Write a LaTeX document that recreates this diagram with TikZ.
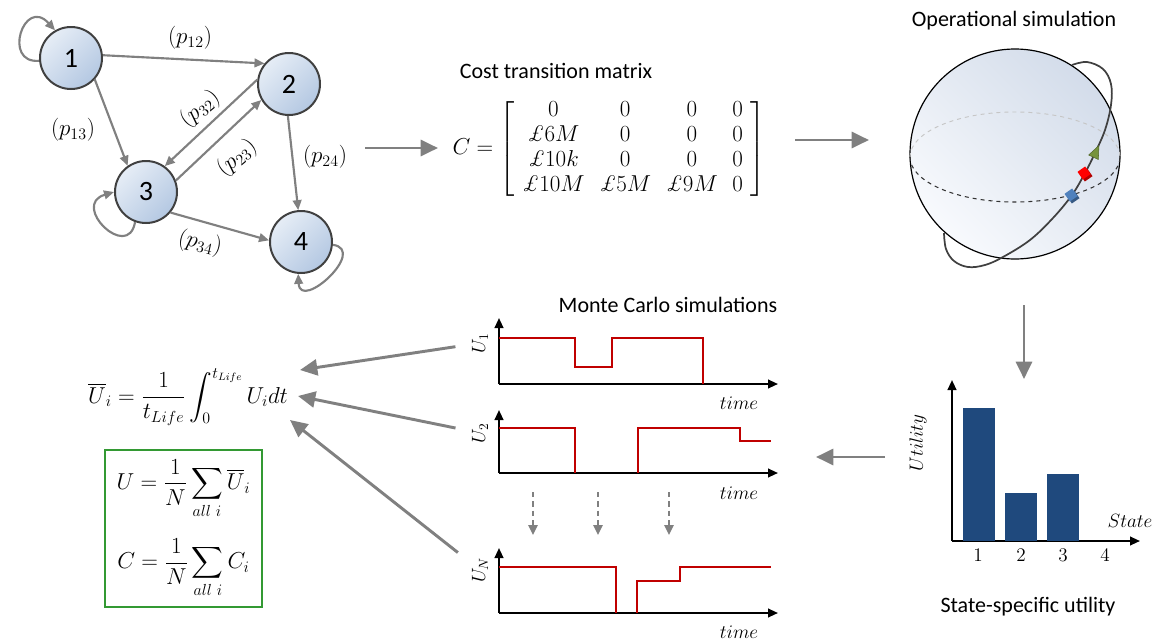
\documentclass[tikz,border=0pt]{standalone}
\usepackage{amsmath}
\usepackage{amssymb}
\usepackage[no-math]{fontspec}
\setmainfont{Carlito}
\newfontfamily\lmrfont{Latin Modern Roman}
\usetikzlibrary{arrows.meta, calc, positioning, shapes.geometric}
\definecolor{stateedge}{HTML}{404040}
\definecolor{statetop}{HTML}{E6EDF6}
\definecolor{statebottom}{HTML}{B4C8E2}
\definecolor{linkgrey}{HTML}{808080}
\definecolor{signalred}{HTML}{C00000}
\definecolor{barblue}{HTML}{1F497D}
\definecolor{boxgreen}{HTML}{339933}
\definecolor{spheretop}{HTML}{D3DCEA}
\definecolor{spherebottom}{HTML}{F8FAFD}
\definecolor{orbitgreen}{HTML}{77933C}
\definecolor{cubeblue}{HTML}{4F81BD}

\newcommand{\gbp}{\text{\lmrfont\itshape\pounds}}

\begin{document}
\begin{tikzpicture}[x=0.75pt, y=-0.75pt,
    state/.style={circle, draw=stateedge, line width=1.5pt, minimum size=46.5pt, inner sep=0pt,
        top color=statetop, bottom color=statebottom, shading angle=45, font=\fontsize{21}{25}\selectfont},
    link/.style={draw=linkgrey, line width=1.6pt, -{Triangle[length=7.5pt, width=6.5pt]}},
    flow/.style={draw=linkgrey, line width=2.2pt, -{Triangle[length=13pt, width=12pt]}},
    hint/.style={draw=linkgrey, line width=1.4pt, dash pattern=on 4pt off 3pt, -{Triangle[length=7.5pt, width=7pt]}},
    axis/.style={black, line width=1.5pt, -{Triangle[length=7.5pt, width=6.5pt]}},
    signal/.style={draw=signalred, line width=1.4pt},
    prob/.style={font=\fontsize{18.5}{21}\selectfont},
    title/.style={font=\fontsize{16.5}{19}\selectfont},
    axlabel/.style={font=\fontsize{14}{17}\selectfont},
    cube/.style={minimum size=7pt, inner sep=0pt, rotate=35},
]
\useasboundingbox (0,0) rectangle (1165,640);

% Markov chain of the four states
\node[state] (s1) at (71,58) {1};
\node[state] (s2) at (289,84) {2};
\node[state] (s3) at (146,192) {3};
\node[state] (s4) at (301,242) {4};

\draw[link] (s1.5) -- (s2.140);
\draw[link] (s1.-42) -- (s3.125);
\draw[link] (s2.172) -- (s3.54);
\draw[link] (s3.21) -- (s2.210);
\draw[link] (s2.268) -- (s4.95);
\draw[link] (s3.-40) -- (s4.177);
\draw[link] (s1.185) .. controls (2,64) and (24,-4) .. (s1.120);
\draw[link] (s3.250) .. controls (128,262) and (70,205) .. (s3.180);
\draw[link] (s4.355) .. controls (368,250) and (300,312) .. (s4.265);

\node[prob] (l12) at (190,38) {$(p_{12})$};
\node[prob] (l13) at (73,130) {$(p_{13})$};
\node[prob, rotate=40] (l32) at (200,109) {$(p_{32})$};
\node[prob, rotate=40] (l23) at (237,158) {$(p_{23})$};
\node[prob] (l24) at (325,157) {$(p_{24})$};
\node[prob, rotate=-12] (l34) at (200,243) {$(p_{34})$};

% cost matrix
\node[title] (costtitle) at (556,71) {Cost transition matrix};
\node[font=\fontsize{17}{18.6}\selectfont] (cmat) at (609,149)
    {$\setlength{\arraycolsep}{5.5pt}C = \left[\begin{array}{cccc}
        0 & 0 & 0 & 0\\
        \gbp 6M & 0 & 0 & 0\\
        \gbp 10k & 0 & 0 & 0\\
        \gbp 10M & \gbp 5M & \gbp 9M & 0
    \end{array}\right]$};

% operational simulation sphere
\node[title] (simtitle) at (1014,21) {Operational simulation};
\node[circle, draw, line width=0.9pt, minimum size=157.5pt, inner sep=0pt,
    top color=spheretop, bottom color=spherebottom, shading angle=-45] (globe) at (1015,154) {};
\draw[gray!45, dashed, line width=0.7pt] (910,157) arc[start angle=180, end angle=360, x radius=105, y radius=45];
\draw[black!80, dashed, line width=0.8pt] (910,157) arc[start angle=180, end angle=0, x radius=105, y radius=45];
\draw[black!75, line width=1.3pt] plot[smooth, tension=0.6] coordinates {(1072,65) (1087,62) (1103,69) (1111,84) (1111,105) (1105,130) (1095,153) (1085,173) (1072,195) (1053,218) (1030,240) (1003,257) (985,265) (968,267) (954,261) (946,249) (944,233)};
\node[isosceles triangle, fill=orbitgreen, draw=orbitgreen!70!black, minimum size=8pt, inner sep=0pt, rotate=65] (head) at (1095,154) {};
\node[cube, fill=red!70!black] (redback) at (1086,175) {};
\node[cube, fill=red] (redcube) at (1084,173) {};
\node[cube, fill=cubeblue!70!black] (blueback) at (1073,197) {};
\node[cube, fill=cubeblue] (bluecube) at (1071,195) {};

% state-specific utility bars
\draw[axis] (952,541) -- (952,380);
\draw[axis] (952,541) -- (1140,541);
\foreach \x/\h in {963/408, 1005/493, 1047/474}
    \fill[barblue] (\x,541) rectangle ++(32,\h-541);
\foreach \n/\x in {1/978, 2/1021, 3/1063, 4/1105}
    \node[axlabel] (tick\n) at (\x,555) {$\n$};
\node[axlabel, rotate=90] (ulab) at (918,443) {$Utility$};
\node[axlabel] (slab) at (1130,521) {$State$};
\node[title] (utiltitle) at (1028,607) {State-specific utility};

% Monte Carlo runs
\node[title] (mctitle) at (668,305) {Monte Carlo simulations};
\draw[axis] (499,384) -- (499,318);
\draw[axis] (499,384) -- (778,384);
\draw[signal] (499,338) -- (575,338) -- (575,367) -- (612,367) -- (612,338) -- (703,338) -- (703,384);
\node[axlabel, rotate=90] (lu1) at (480,343) {$U_1$};
\node[axlabel] (time1) at (739,403) {$time$};

\draw[axis] (499,473) -- (499,410);
\draw[axis] (499,473) -- (778,473);
\draw[signal] (499,428) -- (575,428) -- (575,473);
\draw[signal] (638,473) -- (638,428) -- (740,428) -- (740,441) -- (771,441);
\node[axlabel, rotate=90] (lu2) at (480,433) {$U_2$};
\node[axlabel] (time2) at (739,493) {$time$};

\foreach \x in {533, 598, 669}
    \draw[hint] (\x,492) -- (\x,535);

\draw[axis] (499,613) -- (499,548);
\draw[axis] (499,613) -- (778,613);
\draw[signal] (499,567) -- (616,567) -- (616,613);
\draw[signal] (637,613) -- (637,581) -- (680,581) -- (680,567) -- (771,567);
\node[axlabel, rotate=90] (lun) at (480,570) {$U_N$};
\node[axlabel] (time3) at (739,632) {$time$};

% averages
\node[font=\fontsize{17}{20}\selectfont] (ubar) at (188,397)
    {$\displaystyle \overline{U}_i = \frac{1}{t_{Life}}\int_0^{t_{Life}} U_i dt$};
\node[draw=boxgreen, line width=1.2pt, minimum width=117.75pt, minimum height=117.75pt,
    align=center, font=\fontsize{16.5}{19}\selectfont] (avg) at (183.5,528.5)
    {$\displaystyle U = \frac{1}{N}\sum_{all\ i}\overline{U}_i$\\[14pt]
     $\displaystyle C = \frac{1}{N}\sum_{all\ i} C_i$};

% links between the stages
\coordinate (graphout) at (365,148);
\coordinate (matin) at (438,148);
\coordinate (matout) at (795,140);
\coordinate (simin) at (869,140);
\coordinate (simout) at (1024,305);
\coordinate (barin) at (1024,379);
\coordinate (barout) at (885,457);
\coordinate (mcin) at (816,457);
\coordinate (fin1) at (300,370);
\coordinate (fin2) at (298,396);
\coordinate (fin3) at (290,420);
\draw[flow] (graphout) -- (matin);
\draw[flow] (matout) -- (simin);
\draw[flow] (simout) -- (barin);
\draw[flow] (barout) -- (mcin);
\draw[flow, shorten <=9pt] (lu1) -- (fin1);
\draw[flow, shorten <=9pt] (lu2) -- (fin2);
\draw[flow, shorten <=9pt] (lun) -- (fin3);
\end{tikzpicture}
\end{document}
